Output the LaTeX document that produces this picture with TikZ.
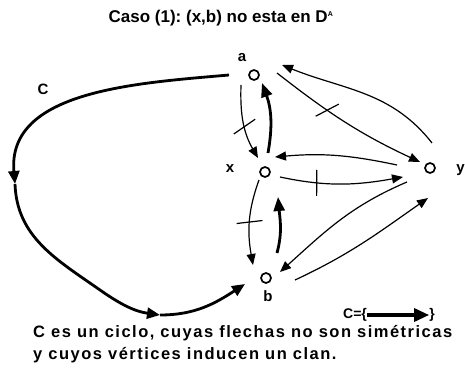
\documentclass[tikz,border=0pt]{standalone}
\usepackage{fontspec}
\setmainfont{Liberation Sans}
\usetikzlibrary{arrows.meta,calc,decorations.markings}
\frenchspacing
\begin{document}
\begin{tikzpicture}[x=1pt,y=1pt,
  vtx/.style={circle,draw,line width=1.7pt,minimum size=10pt,inner sep=0pt,fill=white},
  lbl/.style={font=\bfseries\fontsize{15}{17}\selectfont,inner sep=0pt},
  thinedge/.style={line width=1.2pt,-{Triangle[length=11pt,width=9pt]}},
  thickedge/.style={line width=2.8pt,-{Triangle[length=14pt,width=11pt]}},
  cyc/.style={line width=2.8pt,-{Triangle[length=13pt,width=11pt]}},
  captext/.style={font=\bfseries\fontsize{16.5}{19}\selectfont\addfontfeature{LetterSpace=9},inner sep=0pt,anchor=west},
  crossed/.style 2 args={postaction={decorate},decoration={markings,
     mark=at position #1 with {\draw[-,line width=1.2pt,line cap=butt] (#2:-13pt) -- (#2:13pt);}}}
]
\useasboundingbox (0,0) rectangle (465,389);
% title
\node[font=\bfseries\fontsize{17}{20}\selectfont,inner sep=0pt] (title) at (221,371) {Caso (1): (x,b) no esta en D\textsuperscript{\scriptsize A}};
% vertices
\node[vtx] (a) at (254,314) {};
\node[vtx] (x) at (265,217) {};
\node[vtx] (y) at (430,221) {};
\node[vtx] (b) at (266,111) {};
\node[lbl] (la) at (242,331) {a};
\node[lbl] (lx) at (230,220) {x};
\node[lbl,anchor=east] (ly) at (465,219) {y};
\node[lbl] (lb) at (268,93) {b};
\node[lbl] (lc) at (43,300) {C};
% cycle C
\coordinate (c1) at (15,205);
\coordinate (c2) at (100,99);
\coordinate (c3) at (160,74);
\draw[cyc] ($(a)+(-25,0)$) to[out=185,in=95] (c1);
\draw[cyc] (c1) to[out=-88,in=145] (c2) to[out=-35,in=172] (c3);
\draw[cyc] (c3) to[out=0,in=213] ($(b)+(-21,-6)$);
% edges
\draw[thinedge,crossed={0.55}{110}] ($(a)+(-13,-10)$) to[out=-92,in=120] ($(x)+(-7,14)$);
\draw[thickedge] ($(x)+(3,19)$) to[out=80,in=-70] ($(a)+(8,-8)$);
\draw[thinedge,crossed={0.37}{62}] ($(a)+(23,2)$) to[out=-38,in=155] ($(y)+(-10,6)$);
\draw[thinedge] ($(y)+(2,25)$) to[out=128,in=-22] ($(a)+(28,10)$);
\draw[thinedge] ($(y)+(-33,3)$) to[out=168,in=5] ($(x)+(10,15)$);
\draw[thinedge,crossed={0.3}{95}] ($(x)+(15,-5)$) to[out=-12,in=190] ($(y)+(-27,-9)$);
\draw[thinedge,crossed={0.5}{100}] ($(x)+(-6,-8)$) to[out=-110,in=100] ($(b)+(-13,13)$);
\draw[thickedge] ($(b)+(11,25)$) to[out=75,in=-85] ($(x)+(13,-25)$);
\draw[thinedge] ($(y)+(-23,-14)$) to[out=203,in=42] ($(b)+(14,6)$);
\draw[thinedge] ($(b)+(29,-2)$) to[out=25,in=215] ($(y)+(-2,-30)$);
% legend
\node[font=\bfseries\fontsize{14}{16}\selectfont,inner sep=0pt,anchor=west] (leg1) at (343,74) {C=\{};
\node[font=\bfseries\fontsize{14}{16}\selectfont,inner sep=0pt,anchor=east] (leg2) at (435,74) {\}};
\draw[line width=3.2pt,-{Triangle[length=15pt,width=13pt]}] (leg1.east) -- (leg2.west);
% caption
\node[captext] (cap1) at (33,56) {C es un ciclo, cuyas flechas no son simétricas};
\node[captext] (cap2) at (33,34) {y cuyos vértices inducen un clan.};
\end{tikzpicture}
\end{document}
